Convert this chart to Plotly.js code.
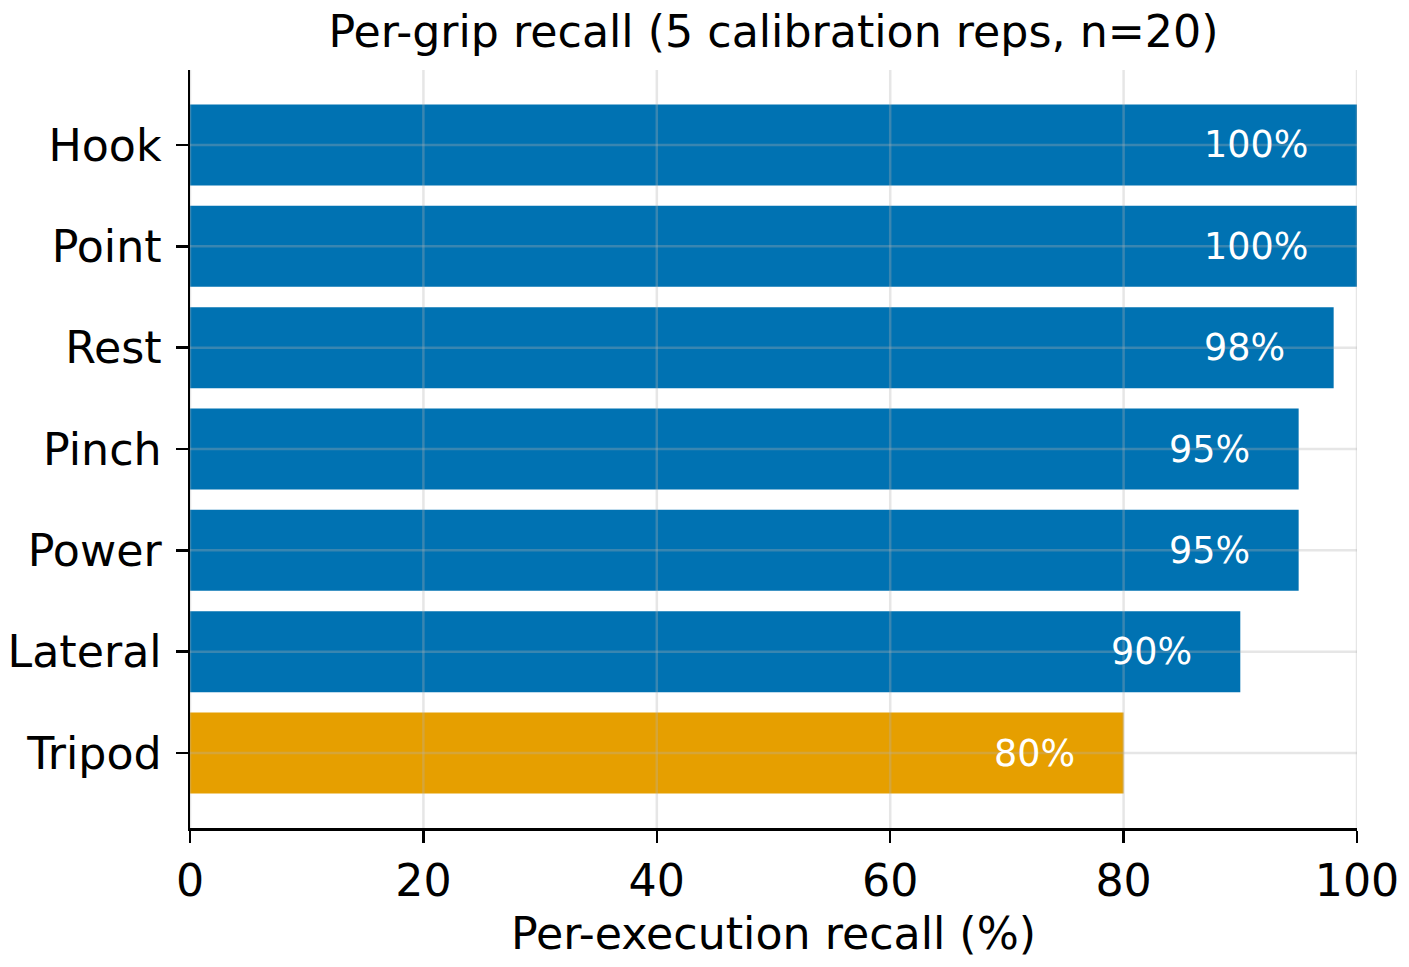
<!DOCTYPE html>
<html>
<head>
<meta charset="utf-8">
<script src="https://cdn.plot.ly/plotly-3.0.1.min.js"></script>
<style>html,body{margin:0;padding:0;background:#fff;}#chart{width:1409px;height:967px;}</style>
</head>
<body>
<div id="chart"></div>
<script>
const grips = ["Hook", "Point", "Rest", "Pinch", "Power", "Lateral", "Tripod"];
const recall = [100, 100, 98, 95, 95, 90, 80];
const barColors = ["#0072B2", "#0072B2", "#0072B2", "#0072B2", "#0072B2", "#0072B2", "#E69F00"];
const xTicks = [0, 20, 40, 60, 80, 100];
const labelOffset = 4;

const FONT = "DejaVu Sans, Liberation Sans, sans-serif";
const gridColor = "rgba(176,176,176,0.32)";
const FS = 44.3;

const trace = {
  type: "bar",
  orientation: "h",
  y: grips,
  x: recall,
  marker: {color: barColors, line: {width: 0}},
  hoverinfo: "x+y",
  showlegend: false
};

const annotations = grips.map((g, i) => ({
  x: recall[i] - labelOffset,
  y: g,
  xref: "x",
  yref: "y",
  text: recall[i] + "%",
  showarrow: false,
  xanchor: "right",
  yanchor: "middle",
  font: {family: FONT, size: 36.5, color: "#ffffff"}
}));

const shapes = [];
xTicks.forEach(t => {
  shapes.push({type: "line", layer: "above", xref: "x", yref: "paper", x0: t, x1: t, y0: 0, y1: 1,
    line: {color: gridColor, width: 2.5}});
});
grips.forEach(g => {
  shapes.push({type: "line", layer: "above", xref: "paper", yref: "y", x0: 0, x1: 1, y0: g, y1: g,
    line: {color: gridColor, width: 2.5}});
});

const layout = {
  width: 1409,
  height: 967,
  paper_bgcolor: "#ffffff",
  plot_bgcolor: "#ffffff",
  margin: {l: 190, r: 52, t: 70, b: 139, pad: 0},
  bargap: 0.2,
  font: {family: FONT, size: FS, color: "#000"},
  title: {
    text: "Per-grip recall (5 calibration reps, n=20)",
    font: {family: FONT, size: FS, color: "#000"},
    x: 0.5, xref: "paper", xanchor: "center",
    y: 1 - 31 / 967, yref: "container", yanchor: "middle"
  },
  xaxis: {
    range: [0, 100],
    tickvals: xTicks,
    ticktext: xTicks.map(String),
    showgrid: false,
    zeroline: false,
    showline: true,
    linecolor: "#000",
    linewidth: 2.5,
    ticks: "outside",
    ticklen: 12,
    tickwidth: 2.5,
    tickcolor: "#000",
    tickfont: {family: FONT, size: FS, color: "#000"},
    title: {text: "Per-execution recall (%)", font: {family: FONT, size: FS, color: "#000"}, standoff: 14},
    fixedrange: true
  },
  yaxis: {
    type: "category",
    categoryorder: "array",
    categoryarray: grips,
    range: [6.74, -0.74],
    showgrid: false,
    zeroline: false,
    showline: true,
    linecolor: "#000",
    linewidth: 2.5,
    ticks: "outside",
    ticklen: 12,
    tickwidth: 2.5,
    tickcolor: "#000",
    ticklabelstandoff: 5,
    tickfont: {family: FONT, size: FS, color: "#000"},
    fixedrange: true
  },
  annotations: annotations,
  shapes: shapes
};

Plotly.newPlot("chart", [trace], layout, {displayModeBar: false, staticPlot: true});
</script>
</body>
</html>
